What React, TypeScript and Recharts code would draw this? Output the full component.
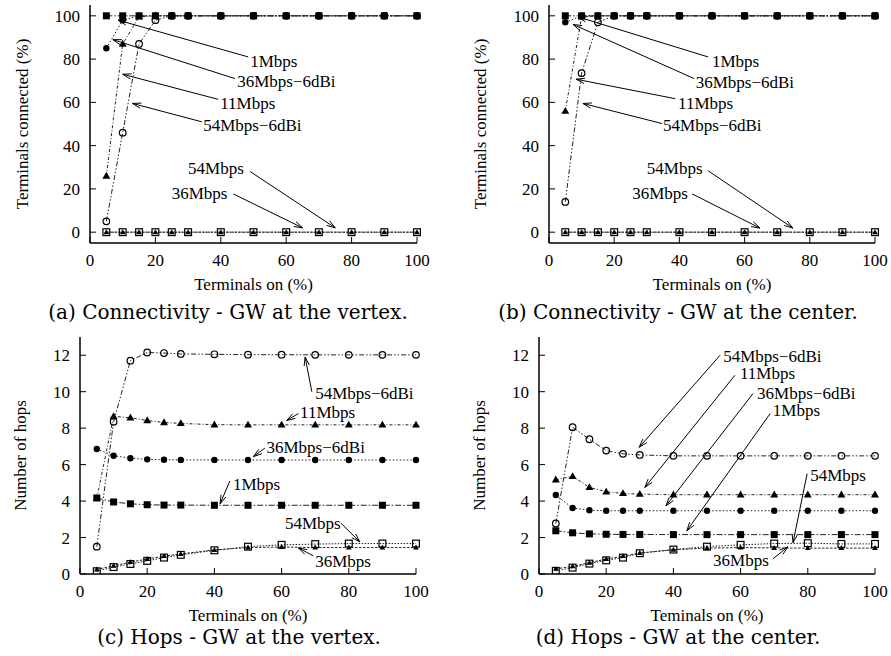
import React from "react";
import { LineChart, Line, XAxis, YAxis, ReferenceLine, ReferenceDot } from "recharts";

// percentage of terminals switched on
const terminalsOn = [5, 10, 15, 20, 25, 30, 40, 50, 60, 70, 80, 90, 100];
const xTicks = [0, 20, 40, 60, 80, 100];
const connTicks = [0, 20, 40, 60, 80, 100];
const hopTicks = [0, 2, 4, 6, 8, 10, 12];

// (a) connectivity, GW at the vertex
const connVertex1M = [100, 100, 100, 100, 100, 100, 100, 100, 100, 100, 100, 100, 100];
const connVertex11M = [26, 87, 99.5, 100, 100, 100, 100, 100, 100, 100, 100, 100, 100];
const connVertex36M6 = [85, 98, 100, 100, 100, 100, 100, 100, 100, 100, 100, 100, 100];
const connVertex54M6 = [5, 46, 87, 98, 100, 100, 100, 100, 100, 100, 100, 100, 100];
const connVertex54M = [0, 0, 0, 0, 0, 0, 0, 0, 0, 0, 0, 0, 0];
const connVertex36M = [0, 0, 0, 0, 0, 0, 0, 0, 0, 0, 0, 0, 0];

// (b) connectivity, GW at the center
const connCenter1M = [100, 100, 100, 100, 100, 100, 100, 100, 100, 100, 100, 100, 100];
const connCenter11M = [56, 99.5, 100, 100, 100, 100, 100, 100, 100, 100, 100, 100, 100];
const connCenter36M6 = [97, 100, 100, 100, 100, 100, 100, 100, 100, 100, 100, 100, 100];
const connCenter54M6 = [14, 73.5, 97, 100, 100, 100, 100, 100, 100, 100, 100, 100, 100];
const connCenter54M = [0, 0, 0, 0, 0, 0, 0, 0, 0, 0, 0, 0, 0];
const connCenter36M = [0, 0, 0, 0, 0, 0, 0, 0, 0, 0, 0, 0, 0];

// (c) hops, GW at the vertex
const hopsVertex1M = [4.17, 3.95, 3.85, 3.8, 3.78, 3.78, 3.77, 3.77, 3.77, 3.77, 3.77, 3.77, 3.77];
const hopsVertex11M = [4.15, 8.65, 8.57, 8.42, 8.31, 8.26, 8.19, 8.18, 8.18, 8.18, 8.18, 8.18, 8.18];
const hopsVertex36M6 = [6.86, 6.49, 6.35, 6.29, 6.27, 6.26, 6.26, 6.25, 6.25, 6.25, 6.25, 6.25, 6.25];
const hopsVertex54M6 = [1.5, 8.35, 11.7, 12.15, 12.12, 12.07, 12.05, 12.03, 12.03, 12.02, 12.02, 12.02, 12.02];
const hopsVertex54M = [0.15, 0.38, 0.55, 0.72, 0.9, 1.05, 1.3, 1.5, 1.6, 1.64, 1.67, 1.67, 1.67];
const hopsVertex36M = [0.25, 0.45, 0.65, 0.82, 0.98, 1.1, 1.32, 1.45, 1.48, 1.45, 1.45, 1.45, 1.45];

// (d) hops, GW at the center
const hopsCenter1M = [2.37, 2.26, 2.2, 2.18, 2.17, 2.17, 2.16, 2.16, 2.16, 2.16, 2.16, 2.16, 2.16];
const hopsCenter11M = [5.17, 5.36, 4.75, 4.51, 4.42, 4.38, 4.35, 4.35, 4.35, 4.35, 4.35, 4.35, 4.35];
const hopsCenter36M6 = [4.33, 3.62, 3.5, 3.47, 3.47, 3.47, 3.47, 3.47, 3.47, 3.47, 3.47, 3.47, 3.47];
const hopsCenter54M6 = [2.77, 8.05, 7.39, 6.77, 6.59, 6.53, 6.48, 6.48, 6.48, 6.48, 6.48, 6.48, 6.48];
const hopsCenter54M = [0.17, 0.35, 0.57, 0.75, 0.9, 1.14, 1.34, 1.5, 1.6, 1.67, 1.69, 1.65, 1.65];
const hopsCenter36M = [0.28, 0.42, 0.62, 0.82, 0.98, 1.15, 1.33, 1.42, 1.45, 1.43, 1.42, 1.42, 1.42];

// annotation labels: text position and arrow from -> to, in data units
const notesA = [
  { text: "1Mbps", tx: 49, ty: 79, x1: 48.4, y1: 81, x2: 8.6, y2: 98 },
  { text: "36Mbps−6dBi", tx: 45, ty: 69.5, x1: 44.3, y1: 71, x2: 7, y2: 89 },
  { text: "11Mbps", tx: 39.8, ty: 59.5, x1: 39.2, y1: 61.4, x2: 10, y2: 73 },
  { text: "54Mbps−6dBi", tx: 34.6, ty: 49.3, x1: 34.2, y1: 51, x2: 13, y2: 59.5 },
  { text: "54Mbps", tx: 30, ty: 29.3, x1: 49, y1: 28, x2: 75, y2: 2 },
  { text: "36Mbps", tx: 25, ty: 18, x1: 43.8, y1: 17.7, x2: 65, y2: 2 },
];
const notesB = [
  { text: "1Mbps", tx: 50, ty: 79, x1: 48.8, y1: 81, x2: 8.9, y2: 99.5 },
  { text: "36Mbps−6dBi", tx: 45, ty: 69.3, x1: 44.5, y1: 71, x2: 7.4, y2: 96 },
  { text: "11Mbps", tx: 39.6, ty: 59.5, x1: 38.7, y1: 61.7, x2: 8.3, y2: 70.7 },
  { text: "54Mbps−6dBi", tx: 35, ty: 49.3, x1: 34.7, y1: 50.2, x2: 10.4, y2: 59.5 },
  { text: "54Mbps", tx: 30, ty: 29.3, x1: 48.8, y1: 28.4, x2: 74.8, y2: 1.9 },
  { text: "36Mbps", tx: 25.5, ty: 18, x1: 43.9, y1: 17.7, x2: 64.7, y2: 1.9 },
];
const notesC = [
  { text: "54Mbps−6dBi", tx: 70, ty: 9.9, x1: 69, y1: 10, x2: 67, y2: 11.9 },
  { text: "11Mbps", tx: 65.5, ty: 8.86, x1: 65, y1: 8.8, x2: 61.5, y2: 8.42 },
  { text: "36Mbps−6dBi", tx: 55.5, ty: 6.93, x1: 55, y1: 6.9, x2: 51.6, y2: 6.44 },
  { text: "1Mbps", tx: 45.5, ty: 4.9, x1: 44.6, y1: 5.1, x2: 41.7, y2: 3.85 },
  { text: "54Mbps", tx: 61, ty: 2.75, x1: 77.6, y1: 2.8, x2: 83.3, y2: 1.76 },
  { text: "36Mbps", tx: 70, ty: 0.66, x1: 69.4, y1: 1.0, x2: 65, y2: 1.43 },
];
const notesD = [
  { text: "54Mbps−6dBi", tx: 54.8, ty: 11.94, x1: 53.9, y1: 12.0, x2: 29.8, y2: 6.95 },
  { text: "11Mbps", tx: 59.8, ty: 11.0, x1: 58.3, y1: 10.9, x2: 31.5, y2: 4.75 },
  { text: "36Mbps−6dBi", tx: 64.9, ty: 9.92, x1: 63.7, y1: 9.9, x2: 37.8, y2: 3.74 },
  { text: "1Mbps", tx: 69.6, ty: 8.97, x1: 68.8, y1: 8.8, x2: 44, y2: 2.37 },
  { text: "54Mbps", tx: 80.7, ty: 5.39, x1: 79.8, y1: 5.5, x2: 75.6, y2: 1.72 },
  { text: "36Mbps", tx: 51.8, ty: 0.72, x1: 69.6, y1: 0.83, x2: 74.1, y2: 1.49 },
];

const FONT = "'Liberation Serif', 'Times New Roman', serif";
const CAPTION_FONT = "'DejaVu Serif', serif";

const series = [
  { key: "m36", shape: "tri", dash: "2.5 1.5", size: 2.6 },
  { key: "m54", shape: "osquare", dash: "1.5 1.5", size: 3.4 },
  { key: "m1", shape: "square", dash: "6 2 1.5 2", size: 3.5 },
  { key: "m11", shape: "tri", dash: "3 2 1 2", size: 3.6 },
  { key: "m36d", shape: "circle", dash: "1.5 2", size: 3.2 },
  { key: "m54d", shape: "ocircle", dash: "5 2 1.5 2 1.5 2", size: 3.3 },
];

function buildRows(m1, m11, m36d, m54d, m54, m36) {
  return terminalsOn.map((x, i) => ({
    x,
    m1: m1[i],
    m11: m11[i],
    m36d: m36d[i],
    m54d: m54d[i],
    m54: m54[i],
    m36: m36[i],
  }));
}

const rowsA = buildRows(connVertex1M, connVertex11M, connVertex36M6, connVertex54M6, connVertex54M, connVertex36M);
const rowsB = buildRows(connCenter1M, connCenter11M, connCenter36M6, connCenter54M6, connCenter54M, connCenter36M);
const rowsC = buildRows(hopsVertex1M, hopsVertex11M, hopsVertex36M6, hopsVertex54M6, hopsVertex54M, hopsVertex36M);
const rowsD = buildRows(hopsCenter1M, hopsCenter11M, hopsCenter36M6, hopsCenter54M6, hopsCenter54M, hopsCenter36M);

function makeDot(shape, s) {
  return (p) => {
    const { cx, cy, index } = p;
    const k = `${shape}-${index}`;
    if (cx == null || cy == null) return <g key={k} />;
    if (shape === "square")
      return <rect key={k} x={cx - s} y={cy - s} width={2 * s} height={2 * s} fill="#000" />;
    if (shape === "osquare")
      return <rect key={k} x={cx - s} y={cy - s} width={2 * s} height={2 * s} fill="none" stroke="#000" strokeWidth={1.2} />;
    if (shape === "circle") return <circle key={k} cx={cx} cy={cy} r={s} fill="#000" />;
    if (shape === "ocircle")
      return <circle key={k} cx={cx} cy={cy} r={s} fill="none" stroke="#000" strokeWidth={1.2} />;
    return (
      <polygon
        key={k}
        points={`${cx},${cy - s * 1.15} ${cx - s * 1.1},${cy + s * 0.75} ${cx + s * 1.1},${cy + s * 0.75}`}
        fill="#000"
      />
    );
  };
}

const arrowShape = (p) => {
  const { x1, y1, x2, y2 } = p;
  if ([x1, y1, x2, y2].some((v) => v == null || isNaN(v))) return <g />;
  const ang = Math.atan2(y2 - y1, x2 - x1);
  const L = 9;
  const w = 0.3;
  const ax = x2 - L * Math.cos(ang - w);
  const ay = y2 - L * Math.sin(ang - w);
  const bx = x2 - L * Math.cos(ang + w);
  const by = y2 - L * Math.sin(ang + w);
  return (
    <g>
      <line x1={x1} y1={y1} x2={x2} y2={y2} stroke="#000" strokeWidth={1} />
      <polyline points={`${ax},${ay} ${x2},${y2} ${bx},${by}`} fill="none" stroke="#000" strokeWidth={1} />
    </g>
  );
};

const textShape = (t) => (p) =>
  p.cx == null ? (
    <g />
  ) : (
    <text x={p.cx} y={p.cy} dominantBaseline="central" style={{ fontFamily: FONT }} fontSize={17} fill="#000">
      {t}
    </text>
  );

const axisLine = { stroke: "#000", strokeWidth: 1.5 };
const tickLine = { stroke: "#000", strokeWidth: 1 };
const tickFont = { fill: "#000", fontSize: 17, fontFamily: FONT };

function Panel({ rows, yDomain, yTicks, yLabel, xLabel, notes, box, caption }) {
  return (
    <div style={{ position: "absolute", left: box.x, top: box.y, width: box.w, height: box.h + 40, fontFamily: FONT }}>
      <LineChart
        width={box.w}
        height={box.h}
        data={rows}
        margin={{ top: box.top, right: box.right, bottom: 0, left: 0 }}
        style={{ fontFamily: FONT }}
      >
        <XAxis
          dataKey="x"
          type="number"
          domain={[0, 100]}
          ticks={xTicks}
          height={57}
          tickSize={-6}
          tickMargin={17}
          axisLine={axisLine}
          tickLine={tickLine}
          tick={tickFont}
          label={{ value: xLabel, position: "insideBottom", offset: 10, fill: "#000", fontSize: 17, fontFamily: FONT }}
        />
        <XAxis
          xAxisId="top"
          orientation="top"
          dataKey="x"
          type="number"
          domain={[0, 100]}
          ticks={xTicks}
          height={0}
          tickSize={-6}
          tick={false}
          axisLine={axisLine}
          tickLine={tickLine}
        />
        <YAxis
          type="number"
          domain={yDomain}
          ticks={yTicks}
          width={box.axisW}
          tickSize={-6}
          tickMargin={16}
          axisLine={axisLine}
          tickLine={tickLine}
          tick={tickFont}
          allowDataOverflow
          label={{
            value: yLabel,
            angle: -90,
            position: "insideLeft",
            offset: box.labelOff,
            fill: "#000",
            fontSize: 17,
            fontFamily: FONT,
            style: { textAnchor: "middle" },
          }}
        />
        <YAxis
          yAxisId="right"
          orientation="right"
          type="number"
          domain={yDomain}
          ticks={yTicks}
          width={0}
          tickSize={-6}
          tick={false}
          axisLine={axisLine}
          tickLine={tickLine}
          allowDataOverflow
        />
        {series.map((s) => (
          <Line
            key={s.key}
            dataKey={s.key}
            type="linear"
            stroke="#222"
            strokeWidth={1}
            strokeDasharray={s.dash}
            dot={makeDot(s.shape, s.size)}
            activeDot={false}
            isAnimationActive={false}
          />
        ))}
        {notes.map((n) => (
          <ReferenceLine
            key={`l-${n.text}`}
            segment={[
              { x: n.x1, y: n.y1 },
              { x: n.x2, y: n.y2 },
            ]}
            shape={arrowShape}
            ifOverflow="visible"
          />
        ))}
        {notes.map((n) => (
          <ReferenceDot key={`t-${n.text}`} x={n.tx} y={n.ty} r={0} shape={textShape(n.text)} ifOverflow="visible" />
        ))}
      </LineChart>
      <div
        style={{
          position: "absolute",
          left: box.capX - box.x - 250,
          top: box.capY - box.y - 10,
          width: 500,
          textAlign: "center",
          fontFamily: CAPTION_FONT,
          fontSize: 20,
          lineHeight: "22px",
          color: "#000",
          whiteSpace: "nowrap",
        }}
      >
        {caption}
      </div>
    </div>
  );
}

export default function App() {
  return (
    <div style={{ position: "absolute", left: 0, top: 0, width: 891, height: 656, background: "#fff" }}>
      <Panel
        rows={rowsA}
        yDomain={[-5, 105]}
        yTicks={connTicks}
        yLabel="Terminals connected (%)"
        xLabel="Terminals on (%)"
        notes={notesA}
        box={{ x: 0, y: 0, w: 445, h: 300, top: 5, right: 28, axisW: 90, labelOff: 22, capX: 228, capY: 311 }}
        caption="(a) Connectivity - GW at the vertex."
      />
      <Panel
        rows={rowsB}
        yDomain={[-5, 105]}
        yTicks={connTicks}
        yLabel="Terminals connected (%)"
        xLabel="Terminals on (%)"
        notes={notesB}
        box={{ x: 445, y: 0, w: 446, h: 300, top: 5, right: 16, axisW: 104, labelOff: 35, capX: 678, capY: 311 }}
        caption="(b) Connectivity - GW at the center."
      />
      <Panel
        rows={rowsC}
        yDomain={[0, 13]}
        yTicks={hopTicks}
        yLabel="Number of hops"
        xLabel="Terminals on (%)"
        notes={notesC}
        box={{ x: 0, y: 330, w: 445, h: 301, top: 7, right: 29, axisW: 80, labelOff: 20, capX: 239, capY: 636 }}
        caption="(c) Hops - GW at the vertex."
      />
      <Panel
        rows={rowsD}
        yDomain={[0, 13]}
        yTicks={hopTicks}
        yLabel="Number of hops"
        xLabel="Teminals on (%)"
        notes={notesD}
        box={{ x: 445, y: 330, w: 446, h: 301, top: 7, right: 16, axisW: 94, labelOff: 34, capX: 678, capY: 636 }}
        caption="(d) Hops - GW at the center."
      />
    </div>
  );
}
